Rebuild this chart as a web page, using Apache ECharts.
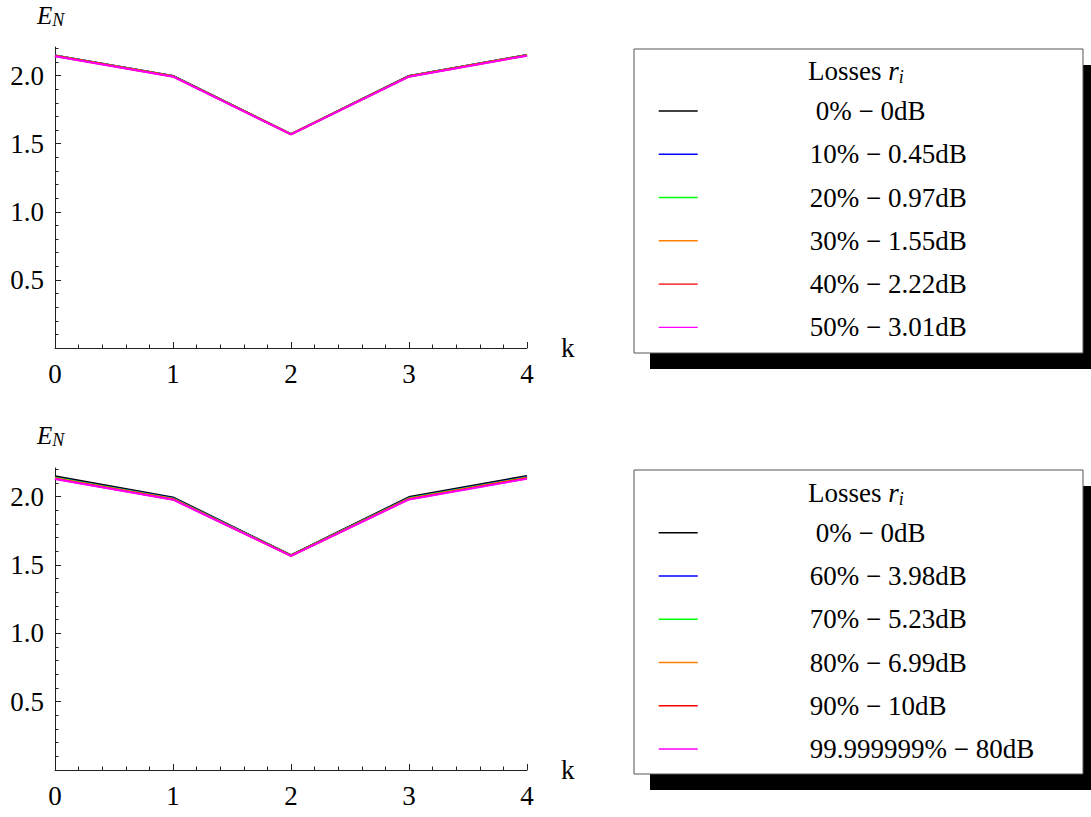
<!DOCTYPE html>
<html><head><meta charset="utf-8">
<script src="https://cdn.jsdelivr.net/npm/echarts@6/dist/echarts.min.js"></script>
<style>html,body{margin:0;padding:0;background:#fff}#c{width:1091px;height:817px}</style>
</head><body><div id="c"></div>
<script>
// ---- data ----
const kValues = [0, 1, 2, 3, 4];
const yTickValues = [0.5, 1.0, 1.5, 2.0];
const seriesColors = ['#000000', '#0000ff', '#00ff00', '#ff8000', '#ff0000', '#ff00ff'];

const topNames = ['0% \u2212 0dB', '10% \u2212 0.45dB', '20% \u2212 0.97dB', '30% \u2212 1.55dB', '40% \u2212 2.22dB', '50% \u2212 3.01dB'];
const top0  = [2.148, 1.998, 1.571, 1.998, 2.152];
const top10 = [2.147, 1.997, 1.571, 1.997, 2.151];
const top20 = [2.146, 1.996, 1.570, 1.996, 2.150];
const top30 = [2.145, 1.995, 1.570, 1.995, 2.149];
const top40 = [2.144, 1.994, 1.569, 1.994, 2.148];
const top50 = [2.142, 1.992, 1.568, 1.992, 2.146];

const botNames = ['0% \u2212 0dB', '60% \u2212 3.98dB', '70% \u2212 5.23dB', '80% \u2212 6.99dB', '90% \u2212 10dB', '99.999999% \u2212 80dB'];
const bot0   = [2.149, 1.995, 1.572, 1.997, 2.152];
const bot60  = [2.141, 1.989, 1.571, 1.990, 2.144];
const bot70  = [2.138, 1.986, 1.570, 1.988, 2.141];
const bot80  = [2.135, 1.983, 1.569, 1.985, 2.138];
const bot90  = [2.132, 1.980, 1.568, 1.982, 2.135];
const bot100 = [2.130, 1.978, 1.567, 1.980, 2.132];

const topValues = [top0, top10, top20, top30, top40, top50];
const botValues = [bot0, bot60, bot70, bot80, bot90, bot100];

// ---- styling ----
const FONT = 'Liberation Serif, Times New Roman, serif';
const AX = '#222';

function makeX(gridIndex) {
  return {
    type: 'value', gridIndex: gridIndex, min: 0, max: 4, interval: 1,
    name: 'k', nameLocation: 'end', nameGap: 34,
    nameTextStyle: { fontFamily: FONT, fontSize: 27, color: '#000', verticalAlign: 'middle', align: 'left' },
    axisLine: { show: true, lineStyle: { color: AX, width: 1 } },
    axisTick: { show: true, inside: true, length: 6, lineStyle: { color: AX, width: 1 } },
    minorTick: { show: true, splitNumber: 5, length: 3.5, lineStyle: { color: AX, width: 1 } },
    splitLine: { show: false },
    axisLabel: { fontFamily: FONT, fontSize: 27, color: '#000', margin: 12, formatter: v => String(v) }
  };
}
function makeY(gridIndex) {
  return {
    type: 'value', gridIndex: gridIndex, min: 0, max: 2.21, interval: 0.5,
    axisLine: { show: true, lineStyle: { color: AX, width: 1 } },
    axisTick: { show: true, inside: true, length: 6, customValues: yTickValues, lineStyle: { color: AX, width: 1 } },
    minorTick: { show: true, splitNumber: 5, length: 3.5, lineStyle: { color: AX, width: 1 } },
    splitLine: { show: false },
    axisLabel: { fontFamily: FONT, fontSize: 27, color: '#000', margin: 11, customValues: yTickValues, formatter: v => v.toFixed(1) }
  };
}
function makeLegend(names, top) {
  return {
    orient: 'vertical', left: 658, top: top, padding: 0, align: 'left',
    itemWidth: 39, itemHeight: 30, itemGap: 13.27,
    data: names,
    lineStyle: { width: 1.4 },
    itemStyle: { opacity: 0, borderWidth: 0 },
    selectedMode: false,
    formatter: name => name.indexOf('0%') === 0 ? '{z|' + name + '}' : name,
    textStyle: {
      fontFamily: FONT, fontSize: 27, color: '#000', lineHeight: 30, padding: [0, 0, 0, 107],
      rich: { z: { fontFamily: FONT, fontSize: 27, color: '#000', padding: [0, 0, 0, 6] } }
    }
  };
}
function makeTitle(top) {
  return {
    left: 808, top: top, padding: 0,
    text: 'Losses {r|r}{i|i}',
    textStyle: {
      fontFamily: FONT, fontSize: 27, fontWeight: 'normal', color: '#000', lineHeight: 30,
      rich: {
        r: { fontFamily: FONT, fontStyle: 'italic', fontSize: 27, color: '#000', lineHeight: 30 },
        i: { fontFamily: FONT, fontStyle: 'italic', fontSize: 18, color: '#000', lineHeight: 15, verticalAlign: 'bottom' }
      }
    }
  };
}
function makeYName(top) {
  return {
    left: 37, top: top, padding: 0,
    text: '{E|E}{N|N}',
    textStyle: {
      fontFamily: FONT, fontSize: 25, fontStyle: 'italic', fontWeight: 'normal', color: '#000', lineHeight: 28,
      rich: {
        E: { fontFamily: FONT, fontStyle: 'italic', fontSize: 25, color: '#000', lineHeight: 28 },
        N: { fontFamily: FONT, fontStyle: 'italic', fontSize: 18, color: '#000', lineHeight: 16, verticalAlign: 'bottom' }
      }
    }
  };
}
function boxGraphics(y) {
  return [
    { type: 'rect', z: 1, silent: true, shape: { x: 650, y: y + 16, width: 449, height: 304 }, style: { fill: '#000' } },
    { type: 'rect', z: 1, silent: true, shape: { x: 634, y: y, width: 449, height: 304 }, style: { fill: '#fff', stroke: '#555', lineWidth: 1 } }
  ];
}

const series = [];
topValues.forEach((vals, i) => {
  series.push({
    type: 'line', name: topNames[i], xAxisIndex: 0, yAxisIndex: 0,
    data: kValues.map((k, j) => [k, vals[j]]),
    symbol: 'none', color: seriesColors[i], lineStyle: { width: 2, color: seriesColors[i] },
    silent: true, animation: false
  });
});
botValues.forEach((vals, i) => {
  series.push({
    type: 'line', name: botNames[i], xAxisIndex: 1, yAxisIndex: 1,
    data: kValues.map((k, j) => [k, vals[j]]),
    symbol: 'none', color: seriesColors[i], lineStyle: { width: 2, color: seriesColors[i] },
    silent: true, animation: false
  });
});

const chart = echarts.init(document.getElementById('c'), null, { renderer: 'svg' });
chart.setOption({
  animation: false,
  backgroundColor: '#fff',
  grid: [
    { left: 55, top: 47, width: 472, height: 301 },
    { left: 55, top: 468, width: 472, height: 302 }
  ],
  xAxis: [makeX(0), makeX(1)],
  yAxis: [makeY(0), makeY(1)],
  legend: [makeLegend(topNames, 96), makeLegend(botNames, 517.7)],
  title: [makeTitle(56), makeTitle(478), makeYName(1), makeYName(421)],
  graphic: boxGraphics(49).concat(boxGraphics(470)),
  series: series
});
</script></body></html>
